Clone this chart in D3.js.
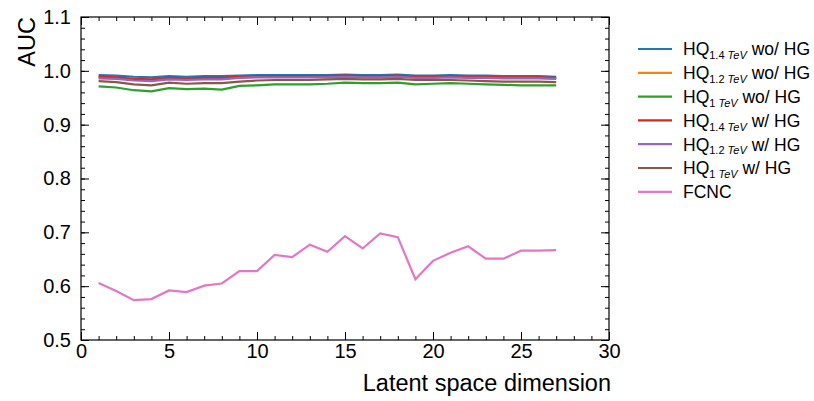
<!DOCTYPE html>
<html>
<head>
<meta charset="utf-8">
<script src="https://cdn.jsdelivr.net/npm/d3@7"></script>
<style>
  body { margin: 0; background: #fff; }
  text { font-family: "Liberation Sans", Arial, sans-serif; fill: #000; }
</style>
</head>
<body>
<div id="chart"></div>
<script>
// данные
var dims = d3.range(1, 28);
var hq14wo = [0.992, 0.991, 0.989, 0.988, 0.990, 0.989, 0.990, 0.990, 0.991, 0.992, 0.992, 0.992, 0.992, 0.992, 0.993, 0.992, 0.992, 0.993, 0.991, 0.991, 0.992, 0.991, 0.991, 0.990, 0.990, 0.990, 0.989];
var hq12wo = [0.988, 0.987, 0.984, 0.983, 0.986, 0.985, 0.986, 0.986, 0.988, 0.989, 0.989, 0.989, 0.989, 0.989, 0.990, 0.989, 0.989, 0.990, 0.988, 0.988, 0.989, 0.988, 0.988, 0.987, 0.987, 0.987, 0.986];
var hq1wo = [0.971, 0.969, 0.964, 0.962, 0.968, 0.966, 0.967, 0.965, 0.972, 0.973, 0.975, 0.975, 0.975, 0.976, 0.978, 0.977, 0.977, 0.978, 0.975, 0.976, 0.977, 0.976, 0.975, 0.974, 0.973, 0.973, 0.973];
var hq14w = [0.989, 0.988, 0.985, 0.984, 0.987, 0.986, 0.987, 0.987, 0.989, 0.990, 0.990, 0.990, 0.990, 0.990, 0.991, 0.990, 0.990, 0.991, 0.989, 0.989, 0.990, 0.989, 0.989, 0.988, 0.988, 0.988, 0.987];
var hq12w = [0.986, 0.985, 0.982, 0.981, 0.984, 0.983, 0.984, 0.984, 0.987, 0.988, 0.988, 0.988, 0.988, 0.988, 0.989, 0.988, 0.988, 0.989, 0.987, 0.987, 0.988, 0.987, 0.987, 0.986, 0.986, 0.986, 0.985];
var hq1w = [0.981, 0.979, 0.975, 0.973, 0.978, 0.976, 0.977, 0.977, 0.980, 0.982, 0.983, 0.983, 0.983, 0.984, 0.985, 0.984, 0.984, 0.985, 0.983, 0.983, 0.983, 0.982, 0.981, 0.980, 0.980, 0.980, 0.979];
var fcnc = [0.606, 0.591, 0.574, 0.576, 0.592, 0.589, 0.601, 0.605, 0.628, 0.628, 0.658, 0.654, 0.677, 0.664, 0.693, 0.670, 0.698, 0.691, 0.613, 0.647, 0.662, 0.674, 0.651, 0.651, 0.666, 0.666, 0.667];

var xTicks = [0, 5, 10, 15, 20, 25, 30];
var yTicks = [0.5, 0.6, 0.7, 0.8, 0.9, 1.0, 1.1];

// серии: подпись (масса, суффикс), данные, цвет
var series = [
  { m: "1.4", s: " wo/ HG", v: hq14wo, c: "#1f77b4" },
  { m: "1.2", s: " wo/ HG", v: hq12wo, c: "#ff7f0e" },
  { m: "1",   s: " wo/ HG", v: hq1wo,  c: "#2ca02c" },
  { m: "1.4", s: " w/ HG",  v: hq14w,  c: "#d62728" },
  { m: "1.2", s: " w/ HG",  v: hq12w,  c: "#9467bd" },
  { m: "1",   s: " w/ HG",  v: hq1w,   c: "#8c564b" },
  { m: null,  s: "FCNC",    v: fcnc,   c: "#e377c2" }
];

var margin = { top: 17, right: 205, bottom: 61, left: 81 },
    width = 814 - margin.left - margin.right,
    height = 401 - margin.top - margin.bottom;

var svg = d3.select("#chart").append("svg")
    .attr("width", 814)
    .attr("height", 401);

var g = svg.append("g")
    .attr("transform", "translate(" + margin.left + "," + margin.top + ")");

var xScale = d3.scaleLinear().domain([0, 30]).range([0, width]);
var yScale = d3.scaleLinear().domain([0.5, 1.1]).range([height, 0]);

var line = d3.line()
    .x(function (d, i) { return xScale(dims[i]); })
    .y(function (d) { return yScale(d); });

series.forEach(function (s) {
  g.append("path")
      .datum(s.v)
      .attr("fill", "none")
      .attr("stroke", s.c)
      .attr("stroke-width", 2.2)
      .attr("d", line);
});

// оси с тиками внутрь, как в mplhep
function styleAxis(sel) {
  sel.select(".domain").remove();
  sel.selectAll("line").attr("stroke", "#000").attr("stroke-width", 1);
  sel.selectAll("text").attr("font-size", 20).attr("font-family", "Liberation Sans, Arial, sans-serif");
}

var minorX = d3.range(0, 31);
var minorY = d3.range(0, 31).map(function (i) { return 0.5 + i * 0.02; });

g.append("g").attr("transform", "translate(0," + height + ")")
    .call(d3.axisBottom(xScale).tickValues(minorX).tickSize(-4).tickFormat(""))
    .call(styleAxis);
g.append("g").attr("transform", "translate(0," + height + ")")
    .call(d3.axisBottom(xScale).tickValues(xTicks).tickSize(-8).tickPadding(4).tickFormat(d3.format("d")))
    .call(styleAxis);
g.append("g")
    .call(d3.axisTop(xScale).tickValues(minorX).tickSize(-4).tickFormat(""))
    .call(styleAxis);
g.append("g")
    .call(d3.axisTop(xScale).tickValues(xTicks).tickSize(-8).tickFormat(""))
    .call(styleAxis);

g.append("g")
    .call(d3.axisLeft(yScale).tickValues(minorY).tickSize(-4).tickFormat(""))
    .call(styleAxis);
g.append("g")
    .call(d3.axisLeft(yScale).tickValues(yTicks).tickSize(-8).tickPadding(10).tickFormat(d3.format(".1f")))
    .call(styleAxis);
g.append("g").attr("transform", "translate(" + width + ",0)")
    .call(d3.axisRight(yScale).tickValues(minorY).tickSize(-4).tickFormat(""))
    .call(styleAxis);
g.append("g").attr("transform", "translate(" + width + ",0)")
    .call(d3.axisRight(yScale).tickValues(yTicks).tickSize(-8).tickFormat(""))
    .call(styleAxis);

g.append("rect")
    .attr("width", width)
    .attr("height", height)
    .attr("fill", "none")
    .attr("stroke", "#000")
    .attr("stroke-width", 1.2);

// подписи осей
g.append("text")
    .attr("x", width + 2)
    .attr("y", height + 51)
    .attr("text-anchor", "end")
    .attr("font-size", 23.5)
    .text("Latent space dimension");

g.append("text")
    .attr("transform", "translate(-46,0) rotate(-90)")
    .attr("text-anchor", "end")
    .attr("font-size", 23.5)
    .text("AUC");

// легенда
var legend = svg.append("g").attr("transform", "translate(638,49)");
series.forEach(function (s, i) {
  var row = legend.append("g").attr("transform", "translate(0," + (i * 23.8) + ")");
  row.append("line")
      .attr("x1", 0).attr("x2", 34)
      .attr("stroke", s.c).attr("stroke-width", 2.2);
  var t = row.append("text")
      .attr("x", 45)
      .attr("dy", "0.36em")
      .attr("font-size", 17.5);
  if (s.m === null) {
    t.text(s.s);
  } else {
    t.append("tspan").text("HQ");
    t.append("tspan").attr("dy", 4).attr("font-size", 11).text(s.m + " ");
    t.append("tspan").attr("font-size", 11).attr("font-style", "italic").text("TeV");
    t.append("tspan").attr("dy", -4).text(s.s);
  }
});
</script>
</body>
</html>
